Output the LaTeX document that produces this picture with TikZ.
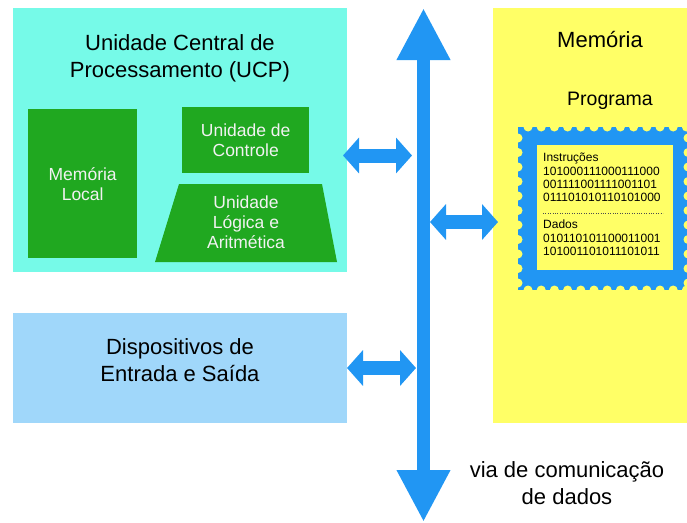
\documentclass[tikz,border=0pt]{standalone}
\usepackage{fontspec}
\setmainfont{Liberation Sans}
\usetikzlibrary{arrows.meta}
\definecolor{ucpc}{RGB}{118,250,232}
\definecolor{esc}{RGB}{160,215,250}
\definecolor{memc}{RGB}{255,255,102}
\definecolor{busc}{RGB}{33,150,243}
\definecolor{grn}{RGB}{32,168,32}
\tikzset{
  panel/.style={rectangle, inner sep=0pt, anchor=north west},
  unit/.style={panel, fill=grn},
  bigtxt/.style={align=center, font=\fontsize{22}{27}\selectfont, text=black},
  unittxt/.style={align=center, font=\fontsize{17.5}{20}\selectfont, text=white!95!black},
  codetxt/.style={align=left, inner sep=0pt, anchor=north west, font=\fontsize{12}{13.3}\selectfont},
  bus/.style={draw=busc, line width=13pt, {Triangle[length=52pt,width=50pt]}-{Triangle[length=52pt,width=50pt]}},
  link/.style={draw=busc, line width=14pt, {Triangle[length=16pt,width=35pt]}-{Triangle[length=16pt,width=35pt]}}
}
\begin{document}
\begin{tikzpicture}[x=1pt,y=-1pt]
\useasboundingbox (0,0) rectangle (687,522);
% panels
\node[panel, fill=ucpc, minimum width=334pt, minimum height=264pt] (ucp) at (13,8) {};
\node[panel, fill=esc, minimum width=334pt, minimum height=110pt] (es) at (13,313) {};
\node[panel, fill=memc, minimum width=194pt, minimum height=415pt] (mem) at (493,8) {};
% UCP contents
\node[bigtxt] (ucptitle) at (180,58) {Unidade Central de\\Processamento (UCP)};
\node[unit, minimum width=109pt, minimum height=149pt] (ml) at (28,109) {};
\node[unittxt] (mltxt) at (ml.center) {Memória\\Local};
\node[unit, minimum width=127pt, minimum height=66pt] (uc) at (182,107) {};
\node[unittxt] (uctxt) at (uc.center) {Unidade de\\Controle};
\fill[grn] (179,184) -- (322,184) -- (337,262) -- (155,262) -- cycle;
\node[unittxt] (ula) at (246,222) {Unidade\\Lógica e\\Aritmética};
% E/S
\node[bigtxt] (estxt) at (180,360) {Dispositivos de\\Entrada e Saída};
% Memory
\node[bigtxt] (memtxt) at (600,40) {Memória};
\node[bigtxt, font=\fontsize{19.5}{24}\selectfont] (prog) at (610,101) {Programa};
% stamp
\fill[busc] (518,127) rectangle (690,290);
\foreach \i in {0,...,12} {
  \fill[memc] (528+13.2*\i,127) circle (4.5);
  \fill[memc] (528+13.2*\i,290) circle (4.5);
}
\foreach \i in {0,...,10} {
  \fill[memc] (518,138+14.5*\i) circle (4.5);
  \fill[memc] (688,138+14.5*\i) circle (4.5);
}
\fill[memc] (537,145) rectangle (673,270);
\node[codetxt] (instr) at (543,153) {Instruções\\101000111000111000\\001111001111001101\\011101010110101000};
\coordinate (dl) at (543,213);
\coordinate (dr) at (663,213);
\draw[black!70, line width=0.8pt, dash pattern=on 0.8pt off 1.6pt] (dl) -- (dr);
\node[codetxt] (dados) at (543,220) {Dados\\010110101100011001\\101001101011101011};
% bus
\coordinate (bt) at (423.5,8);
\coordinate (bb) at (423.5,522);
\draw[bus] (bt) -- (bb);
\coordinate (a1l) at (343,155.5);
\coordinate (a1r) at (412,155.5);
\coordinate (a2l) at (430,222);
\coordinate (a2r) at (498,222);
\coordinate (a3l) at (347,368);
\coordinate (a3r) at (416,368);
\draw[link] (a1l) -- (a1r);
\draw[link] (a2l) -- (a2r);
\draw[link] (a3l) -- (a3r);
\node[bigtxt] (via) at (567,483) {via de comunicação\\de dados};
\end{tikzpicture}
\end{document}
